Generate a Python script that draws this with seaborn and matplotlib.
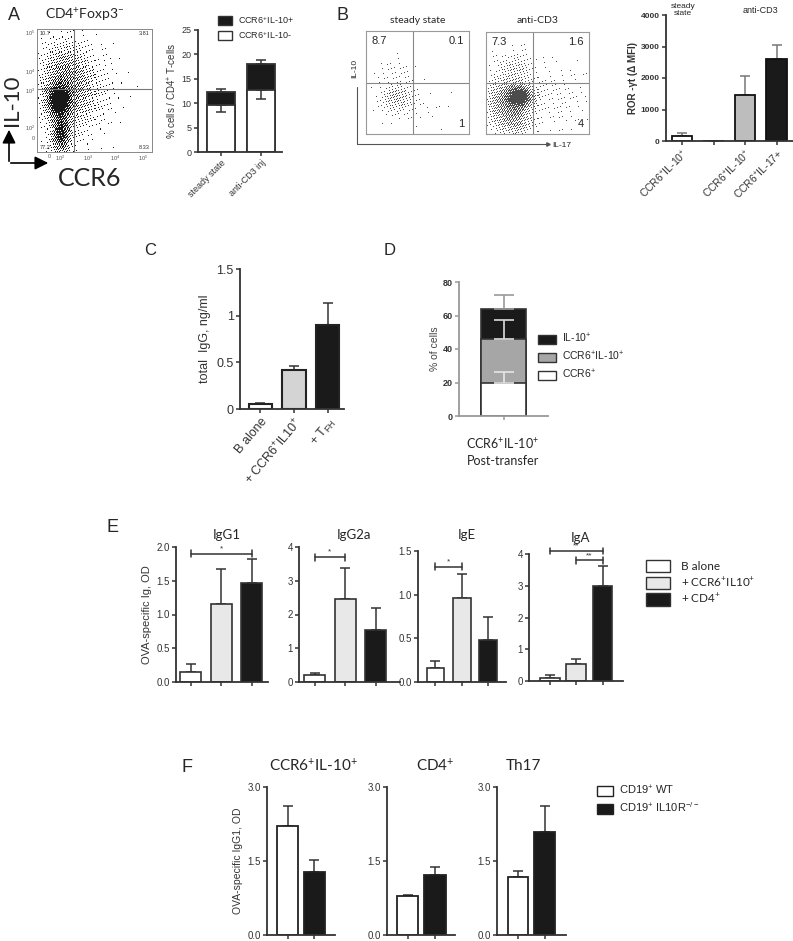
import numpy as np
import pandas as pd
import seaborn as sns
import matplotlib.pyplot as plt
from matplotlib.patches import Patch

sns.set_style("ticks")
plt.rcParams['font.family'] = ['Liberation Sans', 'DejaVu Sans']
plt.rcParams['mathtext.default'] = 'regular'

W, H = 793, 941

# ---------------- data ----------------
# A: flow quadrant values and stacked bars
a_quads = ['10.7', '3.81', '77.2', '8.33']
a_groups = ['steady state', 'anti-CD3 inj']
a_neg = [9.7, 12.8]          # CCR6+IL-10-
a_total = [12.3, 18.1]       # stacked top
a_neg_lo = [8.1, 10.8]
a_total_hi = [13.0, 18.9]

# B: flow quadrants + ROR-gt bars
b_ss_quads = ['8.7', '0.1', '1']
b_cd3_quads = ['7.3', '1.6', '4']
b_groups = ['CCR6$^{+}$IL-10$^{+}$', '', 'CCR6$^{+}$IL-10$^{+}$', 'CCR6$^{+}$IL-17+']
b_vals = [160, 0, 1450, 2600]
b_hi = [260, 0, 2050, 3060]

# C: total IgG
c_groups = ['B alone', '+ CCR6$^{+}$IL10$^{+}$', '+ T$_{FH}$']
c_vals = [0.05, 0.42, 0.90]
c_hi = [0.06, 0.46, 1.14]

# D: stacked post-transfer
d_labels = ['IL-10$^{+}$', 'CCR6$^{+}$IL-10$^{+}$', 'CCR6$^{+}$']
d_tops = [64, 46, 20]
d_hi = [72, 57.5, 26]

# E: OVA-specific Ig
e_groups = ['B alone', '+ CCR6$^{+}$IL10$^{+}$', '+ CD4$^{+}$']
e_titles = ['IgG1', 'IgG2a', 'IgE', 'IgA']
e_vals = [[0.15, 1.16, 1.46], [0.22, 2.46, 1.53], [0.16, 0.96, 0.48], [0.08, 0.52, 3.0]]
e_hi = [[0.27, 1.67, 1.82], [0.28, 3.38, 2.18], [0.24, 1.24, 0.75], [0.18, 0.68, 3.62]]
e_ylims = [2.0, 4.0, 1.5, 4.0]
e_yticks = [[0, 0.5, 1.0, 1.5, 2.0], [0, 1, 2, 3, 4], [0, 0.5, 1.0, 1.5], [0, 1, 2, 3, 4]]
e_sig = [[(0, 2, 1.9, '*')], [(0, 1, 3.7, '*')], [(0, 1, 1.32, '*')],
         [(0, 2, 4.1, '**'), (1, 2, 3.8, '**')]]

# F: IgG1 WT vs IL10R-/-
f_titles = ['CCR6$^{+}$IL-10$^{+}$', 'CD4$^{+}$', 'Th17']
f_groups = ['CD19$^{+}$ WT', 'CD19$^{+}$ IL10R$^{-/-}$']
f_vals = [[2.2, 1.27], [0.80, 1.22], [1.18, 2.08]]
f_hi = [[2.62, 1.53], [0.82, 1.38], [1.30, 2.62]]

# flow clouds: (cx, cy, sx, sy, weight) in axis fractions
a_cloud = [(0.19, 0.42, 0.06, 0.08, 1.0), (0.21, 0.15, 0.05, 0.10, 0.7),
           (0.30, 0.50, 0.16, 0.20, 0.30), (0.22, 0.70, 0.10, 0.12, 0.15)]
b_ss_cloud = [(0.30, 0.35, 0.10, 0.09, 0.35), (0.28, 0.62, 0.10, 0.08, 0.07),
              (0.55, 0.25, 0.15, 0.12, 0.03)]
b_cd3_cloud = [(0.33, 0.36, 0.08, 0.07, 1.0), (0.20, 0.30, 0.12, 0.15, 0.45),
               (0.30, 0.65, 0.12, 0.10, 0.15), (0.70, 0.35, 0.18, 0.18, 0.05),
               (0.30, 0.12, 0.10, 0.08, 0.25)]

# ---------------- helpers ----------------
fig = plt.figure(figsize=(W / 100, H / 100), dpi=100)
ov = fig.add_axes([0, 0, 1, 1])
ov.set_xlim(0, W)
ov.set_ylim(H, 0)
ov.axis('off')

AX = '#333333'


def px_axes(l, t, r, b):
    return fig.add_axes([l / W, 1 - b / H, (r - l) / W, (b - t) / H])


def txt(x, y, s, **kw):
    kw.setdefault('ha', 'center')
    kw.setdefault('va', 'center')
    ov.text(x, y, s, **kw)


def style(ax, fs=7, bold=False):
    sns.despine(ax=ax)
    for sp in ['left', 'bottom']:
        ax.spines[sp].set_color(AX)
        ax.spines[sp].set_linewidth(1.3)
    ax.tick_params(colors=AX, labelsize=fs, length=3, width=1.1, pad=1.5)
    if bold:
        for lab in ax.get_yticklabels():
            lab.set_fontweight('bold')
    ax.set_xlabel('')


def bars(ax, cats, vals, colors, width, edge=AX, lw=1.3):
    df = pd.DataFrame({'g': [f'{i}' for i in range(len(cats))], 'v': vals})
    sns.barplot(data=df, x='g', y='v', hue='g', palette=colors, legend=False,
                width=width, edgecolor=edge, linewidth=lw, ax=ax, zorder=2)
    ax.set_ylabel('')
    ax.set_xlabel('')


def upper_err(ax, vals, hi, color=AX, lw=1.1, cap=3.5):
    x = np.arange(len(vals))
    up = np.array(hi) - np.array(vals)
    ax.errorbar(x, vals, yerr=[np.zeros(len(vals)), up], fmt='none', ecolor=color,
                elinewidth=lw, capsize=cap, capthick=lw, zorder=1)


def halftone(ax, cloud, gain, n=104, dot=0.2):
    # deterministic screen (interleaved gradient noise) to render the event density as dots
    ii, jj = np.meshgrid(np.arange(n), np.arange(n))
    thr = np.mod(52.9829189 * np.mod(0.06711056 * ii + 0.00583715 * jj, 1.0), 1.0)
    xs = (np.arange(n) + 0.5) / n
    X, Y = np.meshgrid(xs, xs)
    dens = np.zeros_like(X)
    for cx, cy, sx, sy, w in cloud:
        dens += w * np.exp(-0.5 * (((X - cx) / sx) ** 2 + ((Y - cy) / sy) ** 2))
    dens = np.clip(dens * gain, 0, 1)
    img = np.where(dens > thr, dot, 1.0)
    ax.imshow(img, cmap='gray', vmin=0, vmax=1, extent=(0, 1, 0, 1),
              origin='lower', interpolation='nearest', aspect='auto')
    ax.set_xlim(0, 1)
    ax.set_ylim(0, 1)


# ---------------- Panel A ----------------
txt(8, 15, 'A', fontsize=13, ha='left')
txt(45, 15, 'CD4$^{+}$Foxp3$^{-}$', fontsize=10, ha='left', family=['Lato', 'DejaVu Sans'])
axf = px_axes(37, 29, 152, 152)
halftone(axf, a_cloud, 1.2, n=115, dot=0.1)
axf.axvline(0.32, color='#777777', lw=0.8)
axf.axhline(0.51, color='#777777', lw=0.8)
axf.set_xticks([0.11, 0.2, 0.44, 0.68, 0.92])
axf.set_xticklabels(['0', '10$^{2}$', '10$^{3}$', '10$^{4}$', '10$^{5}$'])
axf.set_yticks([0.11, 0.2, 0.5, 0.66, 0.97])
axf.set_yticklabels(['0', '10$^{2}$', '10$^{3}$', '10$^{4}$', '10$^{5}$'])
axf.tick_params(labelsize=4, length=0, pad=1.5, colors='#555555')
for sp in axf.spines.values():
    sp.set_color('#888888')
    sp.set_linewidth(0.7)
for (x, y, ha, va), s in zip([(0.02, 0.98, 'left', 'top'), (0.98, 0.98, 'right', 'top'),
                              (0.02, 0.02, 'left', 'bottom'), (0.98, 0.02, 'right', 'bottom')], a_quads):
    axf.text(x, y, s, transform=axf.transAxes, fontsize=4, ha=ha, va=va, color='#333333')
txt(12, 100, 'IL-10', fontsize=16, rotation=90, family=['Lato', 'DejaVu Sans'])
txt(58, 178, 'CCR6', fontsize=18, ha='left', family=['Lato', 'DejaVu Sans'])
ov.annotate('', xy=(9, 127), xytext=(9, 164),
            arrowprops=dict(arrowstyle='-|>,head_length=0.8,head_width=0.4', color='black', lw=1.2))
ov.annotate('', xy=(51, 163), xytext=(8, 163),
            arrowprops=dict(arrowstyle='-|>,head_length=0.8,head_width=0.4', color='black', lw=1.2))

axa = px_axes(198, 30, 282, 152)
bars(axa, a_groups, a_total, ['#1a1a1a', '#1a1a1a'], 0.72)
bars(axa, a_groups, a_neg, ['white', 'white'], 0.72)
upper_err(axa, a_total, a_total_hi)
axa.errorbar(np.arange(2), a_neg, yerr=[np.array(a_neg) - np.array(a_neg_lo), [0, 0]],
             fmt='none', ecolor=AX, elinewidth=1.1, capsize=3.5, capthick=1.1, zorder=5)
axa.set_xlim(-0.58, 1.53)
axa.set_ylim(0, 25)
axa.set_yticks([0, 5, 10, 15, 20, 25])
axa.set_xticks([0, 1])
axa.set_xticklabels(a_groups, rotation=45, ha='right', rotation_mode='anchor')
axa.set_ylabel('% cells / CD4$^{+}$ T-cells', fontsize=7, color=AX, labelpad=2)
style(axa, fs=6.5)
fig.legend([Patch(fc='#1a1a1a', ec=AX), Patch(fc='white', ec=AX)],
           ['CCR6$^{+}$IL-10+', 'CCR6$^{+}$IL-10-'], loc='upper left',
           bbox_to_anchor=(218 / W, 1 - 14 / H), frameon=False, fontsize=6.5,
           handlelength=1.6, handleheight=1.1, borderpad=0, borderaxespad=0,
           labelspacing=0.35, handletextpad=0.6)

# ---------------- Panel B ----------------
txt(343, 15, 'B', fontsize=13)
for (l, t, r, b), cloud, gain, quads, title in [((366, 31, 469, 134), b_ss_cloud, 0.7, b_ss_quads, 'steady state'),
                                               ((486, 32, 589, 134), b_cd3_cloud, 1.0, b_cd3_quads, 'anti-CD3')]:
    axb = px_axes(l, t, r, b)
    halftone(axb, cloud, gain, n=103, dot=0.3)
    axb.axvline(0.46, color='#888888', lw=0.8)
    axb.axhline(0.5, color='#888888', lw=0.8)
    axb.set_xticks([])
    axb.set_yticks([])
    for sp in axb.spines.values():
        sp.set_color('#999999')
        sp.set_linewidth(0.8)
    axb.text(0.05, 0.95, quads[0], transform=axb.transAxes, fontsize=8, ha='left', va='top')
    axb.text(0.95, 0.95, quads[1], transform=axb.transAxes, fontsize=8, ha='right', va='top')
    axb.text(0.95, 0.05, quads[2], transform=axb.transAxes, fontsize=8, ha='right', va='bottom')
    txt((l + r) / 2, 20, title, fontsize=7.5, family=['Lato', 'DejaVu Sans'])
ov.plot([357, 357, 547], [87, 144, 144], color='#555555', lw=0.8)
ov.plot([548], [144], marker='>', ms=2.5, color='#555555')
txt(355, 68, 'IL-10', fontsize=6, rotation=90)
txt(552, 145, 'IL-17', fontsize=6, ha='left')

axr = px_axes(666, 15, 793, 141)
bars(axr, b_groups, b_vals, ['white', 'white', '#bdbdbd', '#1a1a1a'], 0.65, edge='#111111', lw=1.3)
upper_err(axr, b_vals, b_hi, color='#777777')
axr.set_xlim(-0.51, 3.52)
axr.set_ylim(0, 4000)
axr.set_yticks([0, 1000, 2000, 3000, 4000])
axr.set_xticks(range(4))
axr.set_xticklabels(b_groups, rotation=45, ha='right', rotation_mode='anchor')
axr.set_ylabel('ROR -γt (Δ MFI)', fontsize=7, fontweight='bold', color=AX, labelpad=2)
style(axr, fs=6, bold=True)
for lab in axr.get_xticklabels():
    lab.set_fontsize(7.5)
txt(683, 10, 'steady\nstate', fontsize=6, linespacing=1.1)
txt(760, 10, 'anti-CD3', fontsize=6.5)
ov.plot([738, 781], [22, 22], color='#333333', lw=1)

# ---------------- Panel C ----------------
txt(150, 250, 'C', fontsize=12)
axc = px_axes(240, 269, 344, 409)
bars(axc, c_groups, c_vals, ['white', '#d4d4d4', '#1a1a1a'], 0.69, edge='#222222', lw=1.5)
upper_err(axc, c_vals, c_hi, color='#333333')
axc.set_xlim(-0.61, 2.49)
axc.set_ylim(0, 1.5)
axc.set_yticks([0, 0.5, 1, 1.5])
axc.set_yticklabels(['0', '0.5', '1', '1.5'])
axc.set_xticks(range(3))
axc.set_xticklabels(c_groups, rotation=50, ha='right', rotation_mode='anchor')
axc.set_ylabel('total  IgG, ng/ml', fontsize=9, color=AX, labelpad=4)
style(axc, fs=9)

# ---------------- Panel D ----------------
txt(390, 250, 'D', fontsize=12)
axd = px_axes(459, 282, 548, 416)
d_cols = ['#1a1a1a', '#a6a6a6', 'white']
for top, col in zip(d_tops, d_cols):
    bars(axd, ['x'], [top], [col], 0.99, edge='#333333', lw=1.2)
for top, hi, col in zip(d_tops, d_hi, ['#9a9a9a', '#dddddd', '#e6e6e6']):
    axd.errorbar([0], [top], yerr=[[0], [hi - top]], fmt='none', ecolor=col,
                 elinewidth=1.2, capsize=7, capthick=1.2, zorder=6)
axd.set_xlim(-1, 1)
axd.set_ylim(0, 80)
axd.set_yticks([0, 20, 40, 60, 80])
axd.set_xticks([0])
axd.set_xticklabels([''])
axd.set_ylabel('% of cells', fontsize=7.5, color='#444444', labelpad=2)
style(axd, fs=6.5, bold=True)
for sp in ['left', 'bottom']:
    axd.spines[sp].set_color('#999999')
axd.tick_params(color='#999999')
fig.legend([Patch(fc=c, ec='#333333') for c in d_cols], d_labels, loc='upper left',
           bbox_to_anchor=(538 / W, 1 - 332 / H), frameon=False, fontsize=7.5,
           handlelength=1.7, handleheight=1.0, borderpad=0, borderaxespad=0,
           labelspacing=0.45, handletextpad=0.6)
txt(503, 452, 'CCR6$^{+}$IL-10$^{+}$\nPost-transfer', fontsize=9, linespacing=1.3,
    family=['Lato', 'DejaVu Sans'])

# ---------------- Panel E ----------------
txt(112, 528, 'E', fontsize=13)
e_rects = [(176, 547, 268, 682), (299, 547, 400, 682), (418, 551, 506, 682), (529, 554, 623, 681)]
e_xlims = [(-0.48, 2.54), (-0.51, 2.8), (-0.66, 2.68), (-0.8, 2.78)]
e_widths = [0.69, 0.69, 0.67, 0.75]
e_cols = ['white', '#e8e8e8', '#1a1a1a']
for i, (rect, title) in enumerate(zip(e_rects, e_titles)):
    ax = px_axes(*rect)
    bars(ax, e_groups, e_vals[i], e_cols, e_widths[i], edge='#333333', lw=1.2)
    upper_err(ax, e_vals[i], e_hi[i], color='#333333')
    ax.set_xlim(*e_xlims[i])
    ax.set_ylim(0, e_ylims[i])
    ax.set_yticks(e_yticks[i])
    if i == 0 or i == 2:
        ax.set_yticklabels([f'{v:.1f}' for v in e_yticks[i]])
    ax.set_xticks(range(3))
    ax.set_xticklabels(['', '', ''])
    for a, b, y, s in e_sig[i]:
        ax.plot([a, b], [y, y], color='#333333', lw=1.1, clip_on=False)
        d = e_ylims[i] * 0.025
        ax.plot([a, a], [y - d, y + d], color='#333333', lw=1.1, clip_on=False)
        ax.plot([b, b], [y - d, y + d], color='#333333', lw=1.1, clip_on=False)
        ax.text((a + b) / 2, y + d * 0.4, s, ha='center', va='bottom', fontsize=6, color='#333333')
    style(ax, fs=7)
    x0 = (rect[0] + rect[2]) / 2 + 5
    txt(x0, rect[1] - 12 if i < 2 else rect[1] - 16, title, fontsize=9.5,
        family=['Lato', 'DejaVu Sans'])
    if i == 0:
        ax.set_ylabel('OVA-specific Ig, OD', fontsize=8, color=AX, labelpad=3)
fig.legend([Patch(fc=c, ec='#333333') for c in e_cols], e_groups, loc='upper left',
           bbox_to_anchor=(646 / W, 1 - 560 / H), frameon=False,
           handlelength=2.0, handleheight=1.2, borderpad=0, borderaxespad=0,
           labelspacing=0.3, handletextpad=1.0, prop={'family': ['Lato', 'DejaVu Sans'], 'size': 8.5})

# ---------------- Panel F ----------------
txt(187, 767, 'F', fontsize=13)
f_rects = [(267, 787, 335, 935), (387, 787, 455, 935), (497, 787, 566, 935)]
f_xlims = [(-0.76, 1.76), (-0.75, 1.73), (-0.79, 1.81)]
f_cols = ['white', '#1a1a1a']
f_tx = [313, 435, 523]
for i, rect in enumerate(f_rects):
    ax = px_axes(*rect)
    bars(ax, f_groups, f_vals[i], f_cols, 0.78, edge='#222222', lw=1.3)
    upper_err(ax, f_vals[i], f_hi[i], color='#333333')
    ax.set_xlim(*f_xlims[i])
    ax.set_ylim(0, 3)
    ax.set_yticks([0, 1.5, 3])
    ax.set_yticklabels(['0.0', '1.5', '3.0'])
    ax.set_xticks(range(2))
    ax.set_xticklabels(['', ''])
    style(ax, fs=7)
    if i == 0:
        ax.set_ylabel('OVA-specific IgG1, OD', fontsize=7.5, color=AX, labelpad=3)
    txt(f_tx[i], 766, f_titles[i], fontsize=11, family=['Lato', 'DejaVu Sans'])
fig.legend([Patch(fc=c, ec='#222222') for c in f_cols], f_groups, loc='upper left',
           bbox_to_anchor=(597 / W, 1 - 784 / H), frameon=False, fontsize=8,
           handlelength=1.4, handleheight=1.0, borderpad=0, borderaxespad=0,
           labelspacing=0.3, handletextpad=0.6)

fig.savefig('out.png', dpi=100)
